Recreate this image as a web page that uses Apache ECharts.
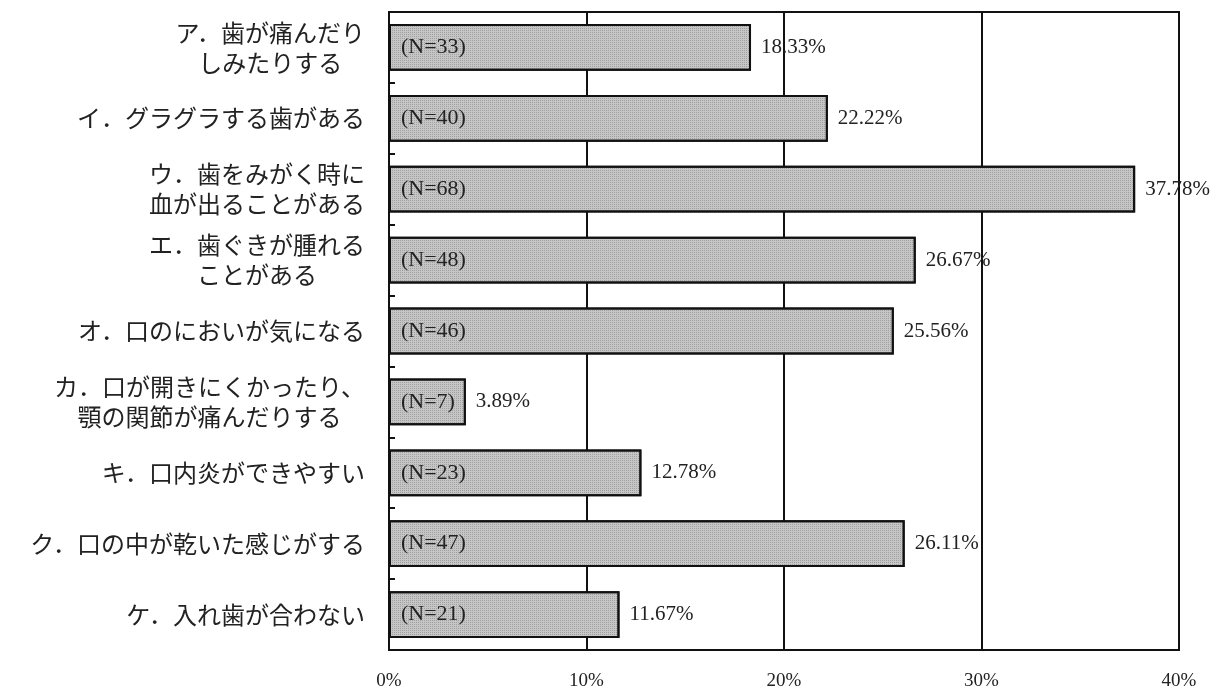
<!DOCTYPE html>
<html>
<head>
<meta charset="utf-8">
<script src="https://cdn.jsdelivr.net/npm/echarts@6/dist/echarts.min.js"></script>
<style>
  html, body { margin: 0; padding: 0; background: #fff; }
  #chart { width: 1229px; height: 691px; }
</style>
</head>
<body>
<div id="chart"></div>
<script>
// 項目名（改行は \n）
var categories = [
    'ア．歯が痛んだり\nしみたりする',
    'イ．グラグラする歯がある',
    'ウ．歯をみがく時に\n血が出ることがある',
    'エ．歯ぐきが腫れる\nことがある',
    'オ．口のにおいが気になる',
    'カ．口が開きにくかったり、\n顎の関節が痛んだりする',
    'キ．口内炎ができやすい',
    'ク．口の中が乾いた感じがする',
    'ケ．入れ歯が合わない'
];
// 割合（%）
var percents = [18.33, 22.22, 37.78, 26.67, 25.56, 3.89, 12.78, 26.11, 11.67];
// 回答数
var counts = [33, 40, 68, 48, 46, 7, 23, 47, 21];
// x軸目盛
var xTicks = [0, 10, 20, 30, 40];

var serif = '"Liberation Serif", "Noto Sans CJK JP", serif';
var jp = '"Noto Sans CJK JP", sans-serif';

var myChart = echarts.init(document.getElementById('chart'));

// 縦の目盛線（棒の下に描く）
var gridLines = xTicks.slice(1, xTicks.length - 1).map(function (v) {
    return { xAxis: v };
});

var option = {
    backgroundColor: '#fff',
    animation: false,
    grid: {
        left: 389,
        right: 50,
        top: 12,
        bottom: 41,
        show: true,
        borderColor: '#111',
        borderWidth: 2,
        backgroundColor: 'transparent'
    },
    xAxis: {
        type: 'value',
        min: xTicks[0],
        max: xTicks[xTicks.length - 1],
        interval: 10,
        axisLine: { show: false },
        axisTick: { show: false },
        splitLine: { show: false },
        axisLabel: {
            margin: 22,
            fontFamily: serif,
            fontSize: 19,
            color: '#222',
            formatter: function (v) { return v + '%'; }
        }
    },
    yAxis: {
        type: 'category',
        inverse: true,
        data: categories,
        axisLine: { show: false },
        axisTick: {
            show: true,
            inside: true,
            length: 6,
            lineStyle: { color: '#111', width: 2 }
        },
        axisLabel: {
            margin: 24,
            fontFamily: jp,
            fontSize: 24,
            lineHeight: 30,
            color: '#222',
            formatter: function (v) {
                // 行ごとに中央揃え
                return v.split('\n').map(function (s) { return '{c|' + s + '}'; }).join('\n');
            },
            rich: {
                c: { align: 'center', fontFamily: jp, fontSize: 24, lineHeight: 30, color: '#222' }
            }
        }
    },
    series: [
        {
            name: 'grid',
            type: 'line',
            data: [],
            silent: true,
            z: 1,
            markLine: {
                z: 1,
                silent: true,
                symbol: ['none', 'none'],
                label: { show: false },
                lineStyle: { color: '#111', width: 2, type: 'solid' },
                data: gridLines
            }
        },
        {
            name: 'N',
            type: 'bar',
            data: percents,
            barWidth: '66%',
            z: 10,
            itemStyle: {
                color: '#c6c6c6',
                borderColor: '#111',
                borderWidth: 2,
                decal: {
                    symbol: 'rect',
                    symbolSize: 1,
                    dashArrayX: [1, 1],
                    dashArrayY: [1, 1],
                    color: 'rgba(90,90,90,0.35)'
                }
            },
            label: {
                show: true,
                position: 'insideLeft',
                distance: 12,
                fontFamily: serif,
                fontSize: 22,
                color: '#222',
                formatter: function (p) { return '(N=' + counts[p.dataIndex] + ')'; }
            }
        },
        {
            name: 'pct',
            type: 'bar',
            data: percents,
            barWidth: '66%',
            barGap: '-100%',
            silent: true,
            z: 11,
            itemStyle: { color: 'rgba(0,0,0,0)' },
            label: {
                show: true,
                position: 'right',
                distance: 10,
                fontFamily: serif,
                fontSize: 21,
                color: '#222',
                formatter: function (p) { return p.value.toFixed(2) + '%'; }
            }
        }
    ]
};

myChart.setOption(option);
</script>
</body>
</html>
